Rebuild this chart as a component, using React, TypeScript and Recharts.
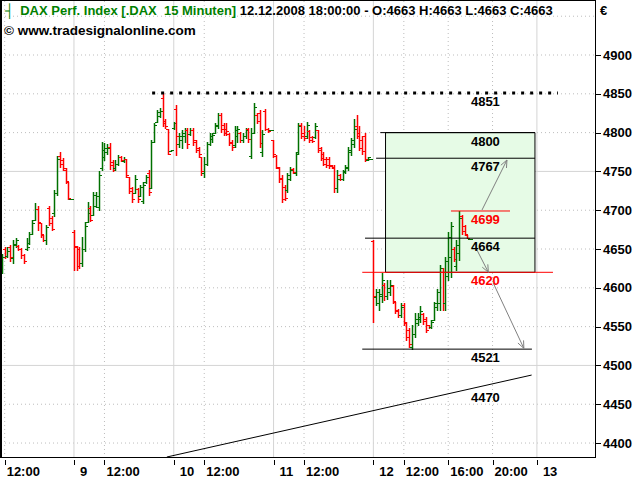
import React from "react";
import {
  ComposedChart,
  Bar,
  XAxis,
  YAxis,
  CartesianGrid,
  ReferenceLine,
  ReferenceArea,
  ReferenceDot,
} from "recharts";

// 15 minute bars per trading day, [open, high, low, close]
const day08 = [
  [4622, 4644, 4619, 4640], [4650, 4652, 4638, 4641], [4641, 4653, 4640, 4648], [4652, 4655, 4634, 4640],
  [4638, 4662, 4632, 4656], [4655, 4664, 4653, 4661], [4654, 4655, 4649, 4650], [4650, 4651, 4638, 4642],
  [4642, 4644, 4632, 4635], [4650, 4664, 4649, 4652], [4658, 4672, 4657, 4670], [4670, 4687, 4669, 4684],
  [4687, 4709, 4687, 4702], [4702, 4705, 4675, 4685], [4683, 4683, 4666, 4670], [4668, 4668, 4660, 4662],
  [4662, 4681, 4657, 4678], [4703, 4705, 4681, 4684], [4690, 4692, 4674, 4676], [4696, 4726, 4693, 4722],
  [4722, 4770, 4720, 4766], [4770, 4775, 4756, 4760], [4765, 4767, 4752, 4755], [4752, 4754, 4735, 4738],
  [4737, 4737, 4715, 4716], [4715, 4715, 4715, 4715],
];
const day09 = [
  [4672, 4674, 4623, 4654], [4652, 4654, 4623, 4628], [4650, 4653, 4625, 4632], [4632, 4665, 4628, 4650],
  [4650, 4685, 4648, 4680], [4685, 4710, 4685, 4696], [4703, 4706, 4686, 4688], [4694, 4723, 4694, 4720],
  [4706, 4723, 4704, 4718], [4704, 4750, 4700, 4745], [4755, 4788, 4752, 4778], [4768, 4786, 4765, 4780],
  [4775, 4785, 4772, 4780], [4782, 4786, 4753, 4758], [4762, 4765, 4750, 4752], [4754, 4765, 4752, 4760],
  [4760, 4771, 4758, 4768], [4769, 4770, 4763, 4765], [4763, 4768, 4762, 4766], [4766, 4766, 4743, 4745],
  [4743, 4743, 4722, 4725], [4728, 4730, 4711, 4714], [4722, 4745, 4722, 4740], [4727, 4728, 4710, 4715],
  [4718, 4733, 4718, 4730], [4712, 4737, 4709, 4732], [4736, 4745, 4735, 4743], [4748, 4752, 4720, 4723],
  [4728, 4790, 4728, 4788], [4788, 4812, 4788, 4810], [4814, 4829, 4814, 4826], [4822, 4832, 4820, 4828],
  [4845, 4851, 4808, 4812], [4815, 4817, 4806, 4808], [4805, 4805, 4772, 4773], [4776, 4778, 4776, 4778],
];
const day10 = [
  [4806, 4814, 4805, 4812], [4830, 4836, 4771, 4795], [4785, 4799, 4782, 4796], [4790, 4803, 4780, 4800],
  [4795, 4806, 4788, 4803], [4803, 4806, 4780, 4785], [4798, 4806, 4797, 4804], [4804, 4806, 4784, 4788],
  [4790, 4791, 4775, 4778], [4780, 4782, 4769, 4772], [4768, 4769, 4745, 4750], [4748, 4769, 4743, 4760],
  [4760, 4788, 4758, 4785], [4785, 4799, 4784, 4796], [4792, 4799, 4788, 4797], [4799, 4812, 4799, 4810],
  [4808, 4825, 4806, 4823], [4823, 4825, 4801, 4805], [4810, 4812, 4797, 4800], [4805, 4812, 4797, 4802],
  [4798, 4799, 4784, 4787], [4788, 4790, 4778, 4782], [4784, 4808, 4782, 4803], [4795, 4808, 4788, 4805],
  [4800, 4801, 4788, 4790], [4790, 4799, 4788, 4796], [4795, 4806, 4793, 4803], [4805, 4806, 4788, 4792],
  [4770, 4806, 4767, 4800], [4800, 4838, 4799, 4833], [4823, 4825, 4812, 4815], [4825, 4829, 4782, 4786],
  [4775, 4803, 4770, 4798], [4828, 4830, 4803, 4805], [4805, 4806, 4801, 4802], [4803, 4803, 4803, 4803],
];
const day11 = [
  [4790, 4790, 4769, 4772], [4770, 4771, 4754, 4756], [4755, 4756, 4737, 4740], [4742, 4745, 4711, 4715],
  [4730, 4732, 4713, 4716], [4726, 4748, 4724, 4745], [4740, 4756, 4739, 4752], [4753, 4754, 4748, 4749],
  [4748, 4775, 4745, 4772], [4775, 4812, 4773, 4808], [4810, 4812, 4793, 4795], [4800, 4808, 4790, 4793],
  [4795, 4814, 4793, 4810], [4802, 4803, 4788, 4790], [4794, 4795, 4788, 4789], [4794, 4812, 4793, 4808],
  [4803, 4803, 4775, 4778], [4780, 4782, 4765, 4767], [4773, 4775, 4758, 4760], [4766, 4769, 4756, 4758],
  [4766, 4769, 4755, 4757], [4758, 4758, 4754, 4755], [4756, 4758, 4724, 4728], [4728, 4752, 4724, 4740],
  [4745, 4747, 4739, 4740], [4740, 4752, 4739, 4750], [4749, 4758, 4748, 4756], [4754, 4782, 4752, 4778],
  [4775, 4793, 4771, 4790], [4785, 4818, 4782, 4805], [4808, 4823, 4793, 4795], [4800, 4808, 4778, 4780],
  [4790, 4795, 4773, 4776], [4795, 4799, 4763, 4766], [4765, 4769, 4765, 4768], [4766, 4766, 4766, 4766],
];
const day12 = [
  [4660, 4662, 4556, 4590], [4588, 4599, 4578, 4594], [4580, 4598, 4571, 4592], [4590, 4619, 4582, 4610],
  [4604, 4606, 4584, 4590], [4590, 4610, 4586, 4600], [4595, 4610, 4591, 4604], [4602, 4604, 4580, 4583],
  [4582, 4582, 4567, 4570], [4572, 4573, 4563, 4565], [4565, 4580, 4563, 4575], [4578, 4580, 4552, 4556],
  [4555, 4556, 4533, 4536], [4546, 4548, 4524, 4527], [4524, 4552, 4521, 4540], [4540, 4567, 4537, 4560],
  [4555, 4567, 4552, 4563], [4560, 4576, 4556, 4570], [4566, 4567, 4554, 4557], [4560, 4563, 4543, 4546],
  [4552, 4552, 4548, 4549], [4549, 4558, 4548, 4556], [4558, 4582, 4558, 4580], [4575, 4599, 4571, 4595],
  [4580, 4629, 4571, 4625], [4620, 4625, 4571, 4580], [4580, 4640, 4571, 4635], [4615, 4672, 4610, 4665],
  [4640, 4685, 4614, 4680], [4650, 4653, 4634, 4637], [4628, 4661, 4623, 4655], [4645, 4699, 4636, 4690],
  [4692, 4694, 4670, 4673], [4680, 4681, 4668, 4670], [4668, 4668, 4664, 4664], [4663, 4663, 4663, 4663],
];

// x axis: bar index of each tick and its label
const xTicks = [1, 26, 37, 62, 73, 98, 109, 134, 145, 161, 177, 193];
const xTickLabels = ["12:00", "9", "12:00", "10", "12:00", "11", "12:00", "12", "12:00", "16:00", "20:00", "13"];
const dayStarts = [26, 62, 98, 134, 193];
const hourMarks = [1, 37, 73, 109, 145, 161, 177];

const yTicks = [4400, 4450, 4500, 4550, 4600, 4650, 4700, 4750, 4800, 4850, 4900];
const yMajor = [4500, 4750];
const yMinor = [4400, 4450, 4550, 4600, 4650, 4700, 4800, 4850, 4900, 4950];

// drawn levels: value, first bar, last bar
const levels = [
  [4800, 136.5, 192.3],
  [4767, 135, 192.3],
  [4699, 162, 183.3],
  [4664, 131, 192.3],
  [4620, 130, 198.8],
  [4521, 130, 191.2],
];
const redLevels = [4699, 4620];
const highLine = [4851, 54.2, 200.6];
const box = [138.4, 192.3, 4620, 4800];
const trend = [[59.5, 4382], [191.1, 4487.6]];
const trendNow = 4470;
const labelBar = 169.2;
const arrows = [
  [[173.2, 4700.3], [182.2, 4764.7]],
  [[171, 4651.4], [175.5, 4620]],
  [[177.3, 4605.8], [188.3, 4522]],
];

const X_DOMAIN = [-0.32, 213.96];
const Y_DOMAIN = [4382, 4969.6];
const GREEN = "#007000";
const RED = "#ff0000";
const FONT = "'Liberation Sans', Arial, sans-serif";
const FS = 13;

const data = [...day08, ...day09, ...day10, ...day11, ...day12].map(([o, h, l, c], i) => ({
  i,
  o,
  h,
  l,
  c,
  range: [l, h],
}));

function OhlcBar(props: any) {
  const { x, y, width, height, payload } = props;
  const { o, h, l, c } = payload;
  const top = Math.min(y, y + height);
  const bottom = Math.max(y, y + height);
  const cx = Math.round(x + width / 2) + 0.5;
  const at = (v: number) => (h > l ? Math.round(top + ((h - v) / (h - l)) * (bottom - top)) + 0.5 : Math.round(top) + 0.5);
  const color = c >= o ? GREEN : RED;
  return (
    <g stroke={color}>
      <line x1={cx} x2={cx} y1={Math.round(top)} y2={Math.round(bottom) + 1} strokeWidth={1.5} />
      <line x1={cx - 2.5} x2={cx} y1={at(o)} y2={at(o)} strokeWidth={1} shapeRendering="crispEdges" />
      <line x1={cx} x2={cx + 2.5} y1={at(c)} y2={at(c)} strokeWidth={1} shapeRendering="crispEdges" />
    </g>
  );
}

function XTick(props: any) {
  const { x, y, payload } = props;
  const label = xTickLabels[xTicks.indexOf(payload.value)];
  const isDay = label.indexOf(":") < 0;
  const px = Math.round(x) + 0.5;
  return (
    <g>
      <line x1={px} x2={px} y1={y + 3} y2={y + 8} stroke="#000" />
      <text x={x + (isDay ? 6 : 2)} y={y + 19} fontSize={FS} fontWeight="bold" fontFamily={FONT} fill="#000">
        {label}
      </text>
    </g>
  );
}

function YTick(props: any) {
  const { x, y, payload } = props;
  const py = Math.round(y) + 0.5;
  return (
    <g>
      <line x1={x + 1} x2={x + 6} y1={py} y2={py} stroke="#000" />
      <text x={x + 8} y={y + 4.5} fontSize={FS} fontWeight="bold" fontFamily={FONT} fill="#000">
        {payload.value}
      </text>
    </g>
  );
}

function Arrow(props: any) {
  const { x1, y1, x2, y2 } = props;
  const ang = Math.atan2(y2 - y1, x2 - x1);
  const len = 8;
  const a1 = ang + Math.PI - 0.4;
  const a2 = ang + Math.PI + 0.4;
  return (
    <g stroke="#808080" strokeWidth={1} fill="none">
      <line x1={x1} y1={y1} x2={x2} y2={y2} />
      <path d={`M${x2 + len * Math.cos(a1)},${y2 + len * Math.sin(a1)} L${x2},${y2} L${x2 + len * Math.cos(a2)},${y2 + len * Math.sin(a2)}`} />
    </g>
  );
}

function levelLabel(value: number, color: string) {
  return (p: any) => (
    <text x={p.cx} y={p.cy + 13} fontSize={FS} fontWeight="bold" fontFamily={FONT} fill={color}>
      {value}
    </text>
  );
}

export default function App() {
  return (
    <div style={{ position: "absolute", left: 0, top: 0, width: 640, height: 480, background: "#fff", fontFamily: FONT }}>
      <ComposedChart width={640} height={480} data={data} margin={{ top: 1, right: 0, bottom: 0, left: 1 }}>
        <CartesianGrid horizontalValues={yMinor} verticalValues={hourMarks} stroke="#bdbdbd" strokeDasharray="1 3" />
        <CartesianGrid horizontalValues={yMajor} verticalValues={dayStarts} stroke="#d4d4d4" />
        <XAxis
          type="number"
          dataKey="i"
          domain={X_DOMAIN}
          allowDataOverflow
          ticks={xTicks}
          interval={0}
          tickSize={0}
          tickMargin={0}
          axisLine={false}
          tick={<XTick />}
          height={23}
        />
        <YAxis
          orientation="right"
          type="number"
          domain={Y_DOMAIN}
          allowDataOverflow
          ticks={yTicks}
          interval={0}
          tickSize={0}
          tickMargin={0}
          axisLine={false}
          tick={<YTick />}
          width={45}
        />
        <ReferenceArea x1={box[0]} x2={box[1]} y1={box[2]} y2={box[3]} fill="#e6fbe6" fillOpacity={1} stroke="#000" strokeWidth={1} />
        <Bar dataKey="range" barSize={4} shape={<OhlcBar />} isAnimationActive={false} />
        <ReferenceLine
          segment={[{ x: highLine[1], y: highLine[0] }, { x: highLine[2], y: highLine[0] }]}
          stroke="#000"
          strokeWidth={3}
          strokeDasharray="3 6"
          ifOverflow="hidden"
        />
        {levels.map(([v, a, b]) => (
          <ReferenceLine
            key={v}
            segment={[{ x: a, y: v }, { x: b, y: v }]}
            stroke={redLevels.includes(v) ? RED : "#000"}
            strokeWidth={1}
            ifOverflow="hidden"
          />
        ))}
        <ReferenceLine
          segment={[{ x: trend[0][0], y: trend[0][1] }, { x: trend[1][0], y: trend[1][1] }]}
          stroke="#000"
          strokeWidth={1}
          ifOverflow="hidden"
        />
        {arrows.map(([s, e], k) => (
          <ReferenceLine key={"a" + k} segment={[{ x: s[0], y: s[1] }, { x: e[0], y: e[1] }]} shape={Arrow} ifOverflow="visible" />
        ))}
        {[highLine[0], ...levels.map((l) => l[0]), trendNow].map((v) => (
          <ReferenceDot
            key={"l" + v}
            x={labelBar}
            y={v}
            r={0}
            ifOverflow="visible"
            shape={levelLabel(v, redLevels.includes(v) ? RED : "#000")}
          />
        ))}
      </ComposedChart>
      <div
        style={{
          position: "absolute",
          left: 0,
          top: 0,
          width: 596,
          height: 458,
          boxSizing: "border-box",
          border: "1px solid #000",
          borderLeft: "2px solid #000",
          pointerEvents: "none",
        }}
      />
      <div style={{ position: "absolute", left: 5, top: 3, fontSize: FS, fontWeight: "bold", whiteSpace: "pre", lineHeight: "15px" }}>
        <span style={{ color: "#008000", marginRight: 6 }}>┤</span>
        <span style={{ color: "#008000" }}>DAX Perf. Index [.DAX  15 Minuten]</span>
        <span style={{ color: "#000" }}> 12.12.2008 18:00:00 - O:4663 H:4663 L:4663 C:4663</span>
      </div>
      <div style={{ position: "absolute", left: 4, top: 23, fontSize: 13.5, fontWeight: "bold", whiteSpace: "pre", lineHeight: "15px" }}>
        © www.tradesignalonline.com
      </div>
      <div style={{ position: "absolute", left: 600, top: 3, fontSize: FS, fontWeight: "bold", lineHeight: "15px" }}>€</div>
    </div>
  );
}
